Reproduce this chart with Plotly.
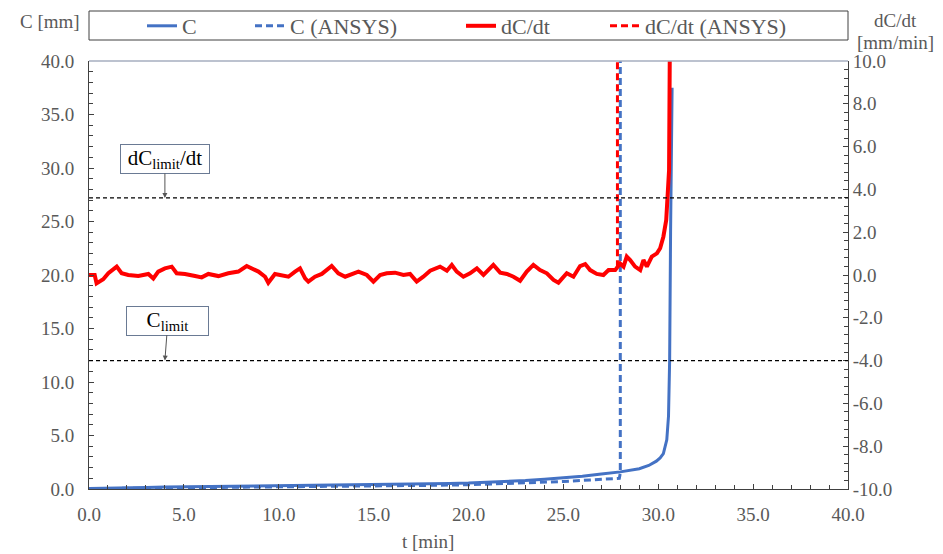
import plotly.graph_objects as go

# ---------------- data ----------------
c_t = [0, 1, 2, 3, 4, 5, 6, 7, 8, 9, 10, 11, 12, 13, 14, 15, 16, 17, 18, 19, 20, 21, 22, 23, 24,
       25, 26, 27, 28, 29, 29.5, 29.9, 30.1, 30.27, 30.45, 30.54, 30.6, 30.65, 30.73]
c_v = [0.05, 0.1, 0.13, 0.15, 0.18, 0.2, 0.22, 0.24, 0.27, 0.28, 0.3, 0.31, 0.33, 0.35, 0.37, 0.39,
       0.42, 0.45, 0.48, 0.52, 0.56, 0.62, 0.7, 0.8, 0.92, 1.05, 1.2, 1.4, 1.6, 1.9, 2.2, 2.6, 2.9,
       3.3, 4.6, 6.8, 12.0, 24.0, 37.5]

ca_t = [0, 2, 4, 6, 8, 10, 12, 14, 16, 18, 20, 21, 22, 23, 24, 25, 26, 27, 27.95, 28.0, 28.0]
ca_v = [0.03, 0.06, 0.09, 0.12, 0.15, 0.18, 0.21, 0.25, 0.29, 0.34, 0.4, 0.45, 0.5, 0.56, 0.63,
        0.7, 0.8, 0.9, 1.0, 1.5, 45]

r_t = [0, 0.3, 0.4, 0.75, 1.02, 1.46, 1.72, 2.07, 2.6, 3.13, 3.39, 3.65, 4.0, 4.36, 4.62, 5.06,
       5.59, 5.94, 6.29, 6.82, 7.34, 7.87, 8.31, 8.58, 8.93, 9.28, 9.45, 9.8, 10.16, 10.51, 10.86,
       11.12, 11.39, 11.56, 11.91, 12.27, 12.79, 13.14, 13.5, 13.76, 14.2, 14.64, 14.99, 15.34,
       15.69, 16.13, 16.57, 16.92, 17.27, 17.62, 17.98, 18.5, 18.86, 19.12, 19.38, 19.73, 20.08,
       20.44, 20.79, 21.31, 21.67, 22.02, 22.37, 22.72, 23.07, 23.42, 23.77, 24.13, 24.48, 24.74,
       25.18, 25.53, 25.88, 26.15, 26.41, 26.76, 27.11, 27.38, 27.73, 27.99, 28.17, 28.34, 28.52,
       28.78, 29.05, 29.22, 29.4, 29.66, 29.93, 30.1, 30.27, 30.42, 30.5, 30.57, 30.62]
r_v = [0, 0, -0.39, -0.20, 0.08, 0.39, 0.08, 0, -0.05, 0.05, -0.16, 0.16, 0.31, 0.39, 0.08,
       0.05, -0.05, -0.11, 0.05, -0.05, 0.08, 0.16, 0.42, 0.31, 0.16, -0.08, -0.36, 0.05, 0, -0.08,
       0.16, 0.31, -0.16, -0.31, -0.08, 0.05, 0.42, 0.08, -0.08, 0, 0.16, 0, -0.31, 0, 0.08,
       0.11, 0, 0.05, -0.31, -0.08, 0.20, 0.39, 0.20, 0.47, 0.16, -0.08, 0.08, 0.31, 0, 0.47,
       0.11, 0.05, -0.08, -0.27, 0.16, 0.47, 0.23, 0.08, -0.23, -0.36, 0.08, -0.08, 0.42, 0.51, 0.23,
       0.05, 0, 0.23, 0.23, 0.54, 0.39, 0.86, 0.70, 0.39, 0.23, 0.70, 0.39, 0.86, 1.01, 1.25,
       1.79, 2.57, 3.66, 4.9, 12]

ra_t = [27.4, 27.85, 27.85]
ra_v = [0.2, 0.25, 12]

c_limit = 12.0          # mm (left axis)
dc_limit = 3.6          # mm/min (right axis)
annot_t = 4.0

x_ticks = [0, 5, 10, 15, 20, 25, 30, 35, 40]
y_ticks = [0, 5, 10, 15, 20, 25, 30, 35, 40]
y2_ticks = [-10, -8, -6, -4, -2, 0, 2, 4, 6, 8, 10]
y2_labels = ["-10.0", "-8.0", "-6.0", "-4.0", "-2.0", "0.0", "2.0", "4.0", "6.0", "8.0", "10.0"]

# ---------------- figure ----------------
FONT = "Liberation Serif"
GRAY = "#595959"
BLUE = "#4472C4"
RED = "#FF0000"
AX = "#404040"

# plot area in pixels
L, R, T, B = 89, 848, 61, 489
PW, PH = R - L, B - T


def px(xp):
    return (xp - L) / PW


def py(yp):
    return (B - yp) / PH


fig = go.Figure()
fig.add_trace(go.Scatter(x=ra_t, y=ra_v, name="dC/dt (ANSYS)", yaxis="y2", mode="lines",
                         line=dict(color=RED, width=3, dash="7px,4px"), legend="legend4"))
fig.add_trace(go.Scatter(x=ca_t, y=ca_v, name="C (ANSYS)", mode="lines",
                         line=dict(color=BLUE, width=3, dash="7px,4px"), legend="legend2"))
fig.add_trace(go.Scatter(x=r_t, y=r_v, name="dC/dt", yaxis="y2", mode="lines",
                         line=dict(color=RED, width=4), legend="legend3"))
fig.add_trace(go.Scatter(x=c_t, y=c_v, name="C", mode="lines",
                         line=dict(color=BLUE, width=3), legend="legend"))

# reference lines
fig.add_shape(type="line", xref="paper", x0=0, x1=1, yref="y", y0=c_limit, y1=c_limit,
              line=dict(color="black", width=1.2, dash="4px,3px"))
fig.add_shape(type="line", xref="paper", x0=0, x1=1, yref="y2", y0=dc_limit, y1=dc_limit,
              line=dict(color="black", width=1.2, dash="4px,3px"))
# top border
fig.add_shape(type="line", xref="paper", x0=0, x1=1, yref="paper", y0=1, y1=1,
              line=dict(color="#A6AEBF", width=1.5))
# legend box
fig.add_shape(type="rect", xref="paper", x0=0, x1=1, yref="paper", y0=py(40), y1=py(11),
              line=dict(color=AX, width=1), fillcolor="rgba(0,0,0,0)")

annots = [
    dict(x=annot_t, y=dc_limit, xref="x", yref="y2", text="dC<sub>limit</sub>/dt",
         showarrow=True, ax=0, ay=-39, arrowhead=2, arrowsize=1, arrowwidth=1, arrowcolor="#555",
         bordercolor="#6A7A94", borderwidth=1, borderpad=2, bgcolor="white",
         width=84, height=24,
         font=dict(family=FONT, size=21, color="black")),
    dict(x=annot_t, y=c_limit, xref="x", yref="y", text="C<sub>limit</sub>",
         showarrow=True, ax=3, ay=-40, arrowhead=2, arrowsize=1, arrowwidth=1, arrowcolor="#555",
         bordercolor="#6A7A94", borderwidth=1, borderpad=2, bgcolor="white",
         width=77, height=24,
         font=dict(family=FONT, size=21, color="black")),
    dict(x=px(50), y=py(22), xref="paper", yref="paper", text="C [mm]",
         xanchor="center", yanchor="middle",
         showarrow=False, font=dict(family=FONT, size=19, color=GRAY)),
    dict(x=px(895), y=py(20), xref="paper", yref="paper", text="dC/dt",
         xanchor="center", yanchor="middle",
         showarrow=False, font=dict(family=FONT, size=19, color=GRAY)),
    dict(x=px(895), y=py(43), xref="paper", yref="paper", text="[mm/min]",
         xanchor="center", yanchor="middle",
         showarrow=False, font=dict(family=FONT, size=19, color=GRAY)),
    dict(x=px(428), y=py(541), xref="paper", yref="paper", text="t [min]",
         xanchor="center", yanchor="middle",
         showarrow=False, font=dict(family=FONT, size=19, color=GRAY)),
]

axis_common = dict(
    showgrid=False, zeroline=False, showline=True, linecolor=AX, linewidth=1,
    ticks="inside", ticklen=5, tickcolor=AX,
    tickfont=dict(family=FONT, size=19, color=GRAY),
)

leg_common = dict(orientation="h", yanchor="middle", y=py(26), xanchor="left",
                  font=dict(family=FONT, size=22, color=GRAY), bgcolor="rgba(0,0,0,0)",
                  borderwidth=0, itemwidth=30, tracegroupgap=0)

fig.update_layout(
    width=943, height=554,
    margin=dict(l=L, r=943 - R, t=T, b=554 - B, autoexpand=False),
    plot_bgcolor="white", paper_bgcolor="white",
    font=dict(family=FONT, color=GRAY),
    xaxis=dict(range=[0, 40], tickvals=x_ticks, tickformat=".1f", ticklabelstandoff=8,
               minor=dict(dtick=1, ticks="inside", ticklen=4, tickcolor=AX),
               **axis_common),
    yaxis=dict(range=[0, 40], tickvals=y_ticks, tickformat=".1f", ticklabelstandoff=10,
               minor=dict(dtick=1, ticks="inside", ticklen=4, tickcolor=AX),
               **axis_common),
    yaxis2=dict(range=[-10, 10], overlaying="y", side="right", tickvals=y2_ticks,
                ticktext=y2_labels,
                minor=dict(dtick=0.4, ticks="inside", ticklen=4, tickcolor=AX),
                **axis_common),
    showlegend=True,
    legend=dict(x=px(142), **leg_common),
    legend2=dict(x=px(250), **leg_common),
    legend3=dict(x=px(461), **leg_common),
    legend4=dict(x=px(605), **leg_common),
    annotations=annots,
)

fig.write_html("out.html")
